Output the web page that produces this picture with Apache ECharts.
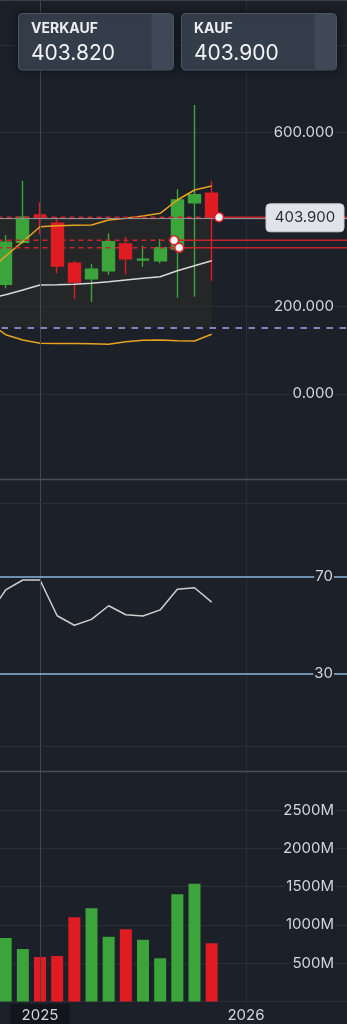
<!DOCTYPE html>
<html><head><meta charset="utf-8">
<script src="https://cdn.jsdelivr.net/npm/echarts@6/dist/echarts.min.js"></script>
<style>html,body{margin:0;padding:0;background:#1b2029;}#c{width:347px;height:1024px;}</style>
</head><body><div id="c"></div><script>
// ---- data ----
const months = ['2024-10','2024-11','2024-12','2025-01','2025-02','2025-03','2025-04','2025-05','2025-06','2025-07','2025-08','2025-09','2025-10','2025-11'];
const futureMonths = ['2025-12','2026-01','2026-02','2026-03','2026-04','2026-05','2026-06','2026-07','2026-08'];
const candleOpen  = [null, 251.4, 347.7, 410.3, 391.3, 299.5, 264.2, 282.6, 343.8, 307.0, 305.5, 332.3, 438.5, 460.1];
const candleClose = [null, 347.7, 405.0, 405.0, 293.3, 256.6, 285.8, 349.1, 310.1, 309.0, 335.3, 444.7, 456.9, 403.9];
const candleLow   = [null, 242.2, 345.0, 366.0, 276.6, 217.0, 210.8, 272.7, 274.3, 291.7, 299.5, 220.6, 222.9, 259.6];
const candleHigh  = [null, 364.4, 489.0, 439.4, 405.0, 304.8, 297.2, 368.3, 360.6, 339.9, 355.3, 469.3, 662.6, 489.0];
const bbUpper  = [281.9, 316.3, 349.1, 383.5, 385.8, 386.7, 387.4, 398.9, 402.8, 408.0, 414.2, 444.7, 467.7, 476.8];
const bbMiddle = [218.8, 227.5, 238.3, 249.8, 250.5, 251.4, 253.7, 257.3, 261.2, 265.1, 268.8, 282.6, 294.0, 305.5];
const bbLower  = [163.5, 135.8, 123.6, 116.1, 115.6, 115.4, 115.1, 113.8, 119.7, 122.9, 123.6, 122.0, 121.3, 136.7];
const rsi      = [54.1, 64.4, 68.5, 68.5, 53.8, 49.9, 52.3, 57.9, 54.2, 53.7, 56.2, 64.7, 65.3, 59.4];
const volume   = [null, 829, 685, 581, 594, 1099, 1216, 846, 942, 806, 564, 1399, 1537, 760];
const bidPrice = 403.820;
const askPrice = 403.900;
const alertLevel = 151.8;
const entryPrices = [352.3, 335.3, 405.0];
const entryPositions = [10.81, 11.11, 13.43];
const crosshairMonth = '2025-01';
const rsiLevels = [70, 30];
const rsiBounds = [0, 100];
const priceTickLabels = [0, 200, 600];
const volumeTickLabels = [500, 1000, 1500, 2000, 2500];

// ---- styles ----
const BG = '#1b2029', GRIDC = '#2a2f37', TXT = '#d3d6dc';
const UP = '#3ba53b', DOWN = '#e01c23', RED = '#c9242b';
const FONT = 'Inter, "Noto Sans", sans-serif';
const categories = months.concat(futureMonths);
const GL = -11.5, GW = 377.67, LM = 31.2;
const isJan = (i, v) => String(v).slice(5) === '01';

const chart = echarts.init(document.getElementById('c'), null, {renderer: 'canvas'});

const candleData = months.map((m, i) => candleOpen[i] == null ? '-' :
  [candleOpen[i], candleClose[i], candleLow[i], candleHigh[i]]);
const volData = months.map((m, i) => volume[i] == null ? '-' : {
  value: volume[i],
  itemStyle: {color: candleClose[i] >= candleOpen[i] ? UP : DOWN}
});

function catX(idx, showLabel) {
  return {
    type: 'category', gridIndex: idx, data: categories, boundaryGap: false,
    axisLine: {show: false}, axisTick: {show: false},
    axisLabel: showLabel ? {
      show: true, interval: isJan, margin: 2.5, color: TXT, fontSize: 15, fontFamily: FONT,
      formatter: v => (v === crosshairMonth ? '{hl|' : '{n|') + v.slice(0, 4) + '}',
      rich: {
        hl: {backgroundColor: '#12161c', padding: [4, 11, 5, 11], color: TXT, fontSize: 15, fontFamily: FONT},
        n: {padding: [4, 11, 5, 11], color: TXT, fontSize: 15, fontFamily: FONT}
      }
    } : {show: false},
    splitLine: {show: true, interval: isJan, lineStyle: {color: GRIDC, width: 1}}
  };
}
const richLabel = {b: {backgroundColor: BG, padding: [2, 1], color: TXT, fontSize: 15, fontFamily: FONT}};

const crossLine = {xAxis: crosshairMonth, lineStyle: {color: '#41464f', width: 1, type: 'solid'}};

const series = [
  { // guides
    type: 'line', xAxisIndex: 0, yAxisIndex: 0, data: [], z: 1, silent: true,
    markArea: {silent: true, itemStyle: {color: 'rgba(50,46,38,0.45)'},
      data: [[{xAxis: months[0], yAxis: askPrice}, {xAxis: months[months.length - 1], yAxis: alertLevel}]]},
    markLine: {silent: true, symbol: ['none', 'none'], label: {show: false}, animation: false,
      data: [
        crossLine,
        {yAxis: askPrice, lineStyle: {color: '#8b8f96', width: 1, type: 'solid'}},
        {yAxis: alertLevel, lineStyle: {color: '#8a7fc0', width: 2, type: [6.5, 6.5]}}
      ]}
  },
  {
    type: 'candlestick', xAxisIndex: 0, yAxisIndex: 0, data: candleData, barWidth: 12.2, z: 2,
    itemStyle: {color: UP, color0: DOWN, borderColor: UP, borderColor0: DOWN, borderWidth: 1.4}
  },
  {type: 'line', xAxisIndex: 0, yAxisIndex: 0, data: bbUpper, symbol: 'none', z: 3, lineStyle: {color: '#e9a31f', width: 1.5}},
  {type: 'line', xAxisIndex: 0, yAxisIndex: 0, data: bbMiddle, symbol: 'none', z: 3, lineStyle: {color: '#d9d9d9', width: 1.5}},
  {type: 'line', xAxisIndex: 0, yAxisIndex: 0, data: bbLower, symbol: 'none', z: 3, lineStyle: {color: '#e9a31f', width: 1.5}}
];
const lastIdx = categories.length - 1;
entryPrices.forEach((p, i) => {
  series.push({type: 'line', xAxisIndex: 3, yAxisIndex: 0, symbol: 'none', z: 4, silent: true,
    data: [[0, p], [entryPositions[i], p]], lineStyle: {color: RED, width: 1.5, type: [5, 4]}});
  series.push({type: 'line', xAxisIndex: 3, yAxisIndex: 0, symbol: 'none', z: 4, silent: true,
    data: [[entryPositions[i], p], [lastIdx, p]], lineStyle: {color: RED, width: 1.5, type: 'solid'}});
});
series.push({type: 'scatter', xAxisIndex: 3, yAxisIndex: 0, z: 6, symbolSize: 9,
  data: entryPositions.map((x, i) => [x, entryPrices[i]]),
  itemStyle: {color: '#f4f4f4', borderColor: '#d4232a', borderWidth: 1.6, opacity: 1}});
series.push({type: 'line', xAxisIndex: 1, yAxisIndex: 1, data: rsi, symbol: 'none', z: 3,
  lineStyle: {color: '#cfcfcf', width: 1.5},
  markLine: {silent: true, symbol: ['none', 'none'], label: {show: false}, animation: false,
    data: [crossLine]
      .concat(rsiBounds.map(v => ({yAxis: v, lineStyle: {color: GRIDC, width: 1, type: 'solid'}})))
      .concat(rsiLevels.map(v => ({yAxis: v, lineStyle: {color: '#8db4dc', width: 1.5, type: 'solid'}})))
  }});
series.push({type: 'bar', xAxisIndex: 2, yAxisIndex: 2, data: volData, barWidth: 12, z: 2,
  markLine: {silent: true, symbol: ['none', 'none'], label: {show: false}, animation: false, data: [crossLine]}});

const gridBase = {left: GL, width: GW, containLabel: false, outerBoundsMode: 'none'};
chart.setOption({
  backgroundColor: BG,
  animation: false,
  grid: [
    Object.assign({top: -42.1, height: 523.2}, gridBase),
    Object.assign({top: 479, height: 292}, gridBase),
    Object.assign({top: 771.7, height: 229.8}, gridBase)
  ],
  xAxis: [catX(0, false), catX(1, false), catX(2, true),
    {type: 'value', gridIndex: 0, min: 0, max: lastIdx, show: false}],
  yAxis: [
    {type: 'value', gridIndex: 0, position: 'right', min: -200, max: 1000, interval: 200,
      axisLine: {show: false}, axisTick: {show: false},
      splitLine: {show: true, showMinLine: false, showMaxLine: false, lineStyle: {color: GRIDC}},
      axisLabel: {inside: true, margin: LM, color: TXT, fontSize: 15, fontFamily: FONT, rich: richLabel,
        formatter: v => priceTickLabels.includes(v) ? '{b|' + v.toFixed(3) + '}' : ''}},
    {type: 'value', gridIndex: 1, position: 'right', min: -10, max: 110, interval: 10, z: 5,
      axisLine: {show: false}, axisTick: {show: false}, splitLine: {show: false},
      axisLabel: {inside: true, margin: LM + 1, color: TXT, fontSize: 15, fontFamily: FONT, rich: richLabel,
        formatter: v => rsiLevels.includes(Math.round(v)) ? '{b|' + Math.round(v) + '}' : ''}},
    {type: 'value', gridIndex: 2, position: 'right', min: 0, max: 3000, interval: 500,
      axisLine: {show: false}, axisTick: {show: false},
      splitLine: {show: true, showMaxLine: false, lineStyle: {color: GRIDC}},
      axisLabel: {inside: true, margin: LM, color: TXT, fontSize: 15, fontFamily: FONT, rich: richLabel,
        formatter: v => volumeTickLabels.includes(v) ? '{b|' + v + 'M}' : ''}}
  ],
  series: series
});

const ZH = 100;
function headerBox(x, title, value) {
  const y = 13.5;
  return [
    {type: 'rect', z: ZH, shape: {x: x, y: y, width: 155, height: 56.5, r: 4},
      style: {fill: '#343d4a', stroke: '#4d5664', lineWidth: 1, shadowBlur: 8, shadowColor: 'rgba(0,0,0,0.45)'}},
    {type: 'rect', z: ZH + 1, shape: {x: x + 133, y: y + 0.5, width: 21.5, height: 55.5, r: [0, 4, 4, 0]},
      style: {fill: '#3e4856'}},
    {type: 'text', z: ZH + 2, style: {text: title, x: x + 12.5, y: y + 15.5, fill: '#eceef1', font: 'bold 14px ' + FONT, verticalAlign: 'middle'}},
    {type: 'text', z: ZH + 2, style: {text: value.toFixed(3), x: x + 12.5, y: y + 40, fill: '#f2f3f5', font: '21px ' + FONT, verticalAlign: 'middle'}}
  ];
}
const py = chart.convertToPixel({yAxisIndex: 0}, askPrice);
chart.setOption({graphic: [
  {type: 'line', z: 90, shape: {x1: 0, y1: 0.5, x2: 347, y2: 0.5}, style: {stroke: '#3b4048', lineWidth: 1}},
  {type: 'line', z: 90, shape: {x1: 0, y1: 479.5, x2: 347, y2: 479.5}, style: {stroke: '#4a4f58', lineWidth: 1.5}},
  {type: 'line', z: 90, shape: {x1: 0, y1: 771.5, x2: 347, y2: 771.5}, style: {stroke: '#4a4f58', lineWidth: 1.5}}
].concat(headerBox(18.5, 'VERKAUF', bidPrice), headerBox(181.5, 'KAUF', askPrice), [
  {type: 'rect', z: 95, shape: {x: 266, y: py - 14, width: 78, height: 28, r: 4}, style: {fill: '#e0e3e8', stroke: '#c9ccd2', lineWidth: 1}},
  {type: 'text', z: 96, style: {text: askPrice.toFixed(3), x: 305, y: py, fill: '#2b2f36', font: '15px ' + FONT, align: 'center', verticalAlign: 'middle'}}
])});
</script></body></html>
